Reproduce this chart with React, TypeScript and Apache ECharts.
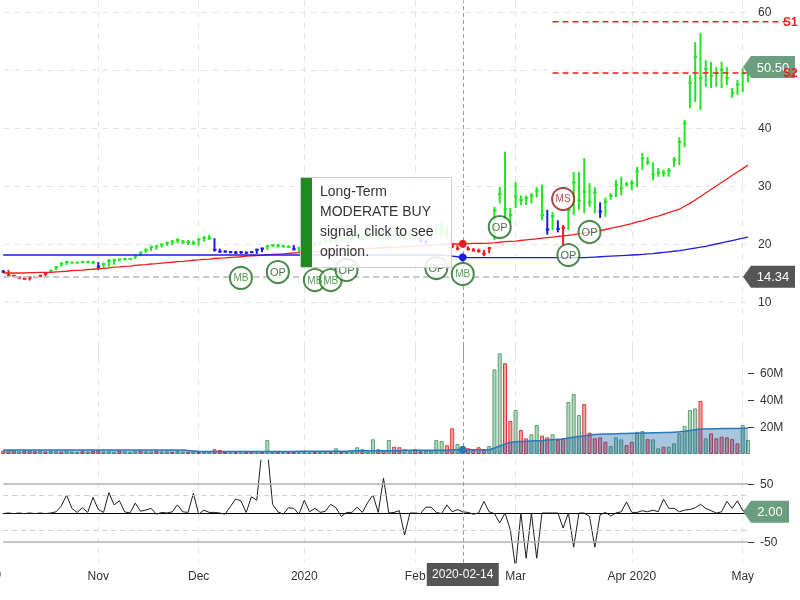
import React, { useEffect, useRef } from "react";
import * as echarts from "echarts";

// ---------- categories (trading days shown on the chart) ----------
const START = "2019-10-08";
const END = "2020-05-04";
const closedDays = ["2019-11-28", "2019-11-29", "2019-12-24", "2019-12-25", "2020-01-01", "2020-01-20", "2020-02-17", "2020-04-10"];
function buildDates(): string[] {
  const out: string[] = [];
  const d = new Date(START + "T00:00:00Z");
  const end = new Date(END + "T00:00:00Z");
  while (d <= end) {
    const dow = d.getUTCDay();
    const s = d.toISOString().slice(0, 10);
    if (dow !== 0 && dow !== 6 && !closedDays.includes(s)) out.push(s);
    d.setUTCDate(d.getUTCDate() + 1);
  }
  return out;
}
const dates = buildDates();

const monthLabels: Record<string, string> = {
  "2019-11-01": "Nov",
  "2019-12-02": "Dec",
  "2020-01-02": "2020",
  "2020-02-03": "Feb",
  "2020-03-02": "Mar",
  "2020-04-01": "Apr 2020",
  "2020-05-01": "May",
};
const firstLabel = "Oct 2019";
const crossDate = "2020-02-14";

// ---------- price bars ----------
const lows = [
  15.0, 14.4, 14.3, 14.1, 13.9, 13.7, 14.1, 14.3, 14.3, 15.0,
  15.5, 16.1, 16.4, 16.7, 16.7, 16.7, 16.7, 16.5, 15.5, 15.8,
  16.1, 16.4, 17.0, 17.2, 17.3, 17.4, 17.9, 18.5, 18.8, 19.0,
  19.4, 19.7, 19.8, 20.1, 20.0, 19.8, 19.8, 19.7, 20.4, 20.7,
  18.7, 18.5, 18.5, 18.4, 18.3, 18.3, 18.3, 18.4, 18.3, 18.6,
  19.0, 19.5, 19.4, 19.4, 19.4, 18.9, 18.6, 19.0, 19.3, 19.5,
  19.8, 20.0, 20.0, 19.8, 20.2, 20.5, 20.3, 20.8, 20.6, 21.0,
  21.3, 20.8, 20.5, 20.6, 21.2, 21.0, 20.6, 20.8, 20.5, 20.2,
  20.0, 20.8, 21.5, 21.2, 21.0, 19.3, 18.9, 19.5, 18.9, 18.7,
  18.5, 17.9, 18.4, 20.7, 27.0, 24.1, 23.6, 26.2, 26.7, 26.7,
  27.0, 28.0, 24.1, 21.6, 22.4, 22.0, 19.8, 22.4, 25.0, 25.9,
  25.3, 26.4, 25.3, 24.5, 24.7, 27.6, 28.1, 28.4, 29.9, 29.3,
  29.8, 32.8, 33.6, 31.0, 31.6, 31.6, 31.6, 33.3, 33.6, 36.7,
  43.4, 44.5, 43.1, 47.1, 46.9, 47.1, 46.9, 47.4, 45.2, 45.7, 46.2, 47.9,
];
const highs = [
  15.5, 15.5, 14.7, 14.4, 14.2, 14.4, 14.5, 14.7, 15.0, 15.6,
  16.2, 16.9, 17.1, 16.9, 16.9, 17.1, 17.1, 17.1, 16.9, 16.8,
  17.4, 17.5, 17.5, 17.5, 17.5, 18.1, 18.7, 19.2, 19.7, 19.8,
  20.1, 20.4, 20.7, 21.0, 20.7, 20.7, 20.6, 21.0, 21.3, 21.6,
  21.0, 19.2, 18.9, 18.8, 18.8, 18.8, 18.7, 18.8, 19.2, 19.4,
  19.8, 20.0, 20.0, 19.8, 19.8, 19.8, 19.5, 19.8, 20.0, 20.3,
  20.6, 20.8, 21.2, 21.5, 21.3, 21.8, 21.5, 22.0, 21.6, 22.5,
  22.7, 22.0, 21.5, 21.8, 22.8, 22.0, 21.4, 22.6, 21.8, 21.2,
  20.8, 22.5, 23.5, 24.1, 23.0, 20.2, 19.8, 20.3, 19.6, 19.3,
  19.2, 19.0, 19.5, 26.4, 29.8, 35.9, 26.2, 30.7, 28.4, 28.4,
  28.8, 29.8, 30.2, 25.9, 25.5, 24.1, 23.3, 26.4, 32.4, 32.4,
  34.8, 30.5, 29.8, 27.2, 28.0, 28.8, 31.0, 31.6, 30.7, 31.0,
  33.3, 35.7, 35.0, 34.1, 33.1, 32.8, 33.1, 35.0, 38.4, 41.4,
  49.1, 54.8, 56.4, 51.7, 51.4, 50.5, 51.4, 50.5, 46.9, 48.3, 50.3, 50.5,
];
const closes = [
  15.2, 14.6, 14.5, 14.2, 14.0, 14.2, 14.3, 14.5, 14.9, 15.4,
  16.0, 16.6, 16.9, 16.8, 16.8, 16.9, 16.9, 16.8, 16.1, 16.5,
  17.1, 17.2, 17.3, 17.4, 17.4, 17.9, 18.5, 19.0, 19.5, 19.6,
  19.9, 20.2, 20.4, 20.7, 20.4, 20.3, 20.2, 20.8, 21.1, 21.0,
  19.0, 18.7, 18.7, 18.6, 18.5, 18.6, 18.5, 18.6, 19.0, 19.2,
  19.6, 19.8, 19.7, 19.6, 19.5, 19.1, 19.3, 19.6, 19.8, 20.1,
  20.4, 20.5, 20.9, 21.0, 20.8, 21.5, 21.0, 21.7, 21.2, 22.1,
  22.0, 21.3, 21.0, 21.5, 22.3, 21.4, 20.9, 22.0, 21.0, 20.5,
  20.3, 22.0, 23.0, 22.5, 21.4, 19.6, 19.2, 19.7, 19.1, 18.9,
  18.8, 18.3, 19.3, 25.8, 28.6, 26.0, 25.0, 28.2, 27.6, 27.9,
  28.3, 29.2, 25.0, 22.5, 24.8, 22.6, 22.8, 25.9, 30.6, 27.5,
  29.0, 27.2, 28.9, 25.6, 27.3, 28.3, 30.2, 29.6, 30.3, 30.5,
  32.5, 34.8, 34.1, 32.0, 32.3, 32.2, 32.6, 34.5, 37.6, 40.8,
  47.8, 52.3, 48.6, 50.2, 49.0, 49.5, 50.0, 48.6, 46.0, 47.5, 49.4, 50.5,
];
// trend colour of each bar, as runs: g = green, r = red, b = blue
const trendRuns: [string, number][] = [
  ["b", 1], ["r", 8], ["g", 9], ["b", 1], ["g", 21], ["b", 10], ["g", 5], ["b", 1], ["g", 23], ["b", 2],
  ["g", 4], ["r", 8], ["g", 10], ["b", 1], ["g", 1], ["b", 1], ["r", 1], ["g", 6], ["b", 1], ["g", 28],
];
const trend: string[] = trendRuns.flatMap(([c, n]) => Array.from({ length: n }, () => c));

const redMA = [
  15.0, 15.0, 15.0, 15.0, 15.0, 15.05, 15.05, 15.1, 15.1, 15.1,
  15.2, 15.25, 15.3, 15.4, 15.45, 15.5, 15.6, 15.65, 15.75, 15.8,
  15.9, 16.0, 16.05, 16.15, 16.2, 16.3, 16.4, 16.45, 16.55, 16.6,
  16.7, 16.8, 16.85, 16.95, 17.0, 17.1, 17.2, 17.25, 17.35, 17.4,
  17.5, 17.55, 17.6, 17.7, 17.75, 17.8, 17.9, 17.95, 18.0, 18.05,
  18.15, 18.2, 18.25, 18.3, 18.4, 18.45, 18.5, 18.6, 18.65, 18.7,
  18.75, 18.8, 18.85, 18.9, 18.95, 19.0, 19.05, 19.1, 19.15, 19.2,
  19.25, 19.3, 19.35, 19.4, 19.45, 19.5, 19.55, 19.6, 19.65, 19.7,
  19.75, 19.8, 19.85, 19.9, 19.95, 20.0, 20.0, 20.05, 20.05, 20.1,
  20.1, 20.1, 20.15, 20.2, 20.3, 20.4, 20.45, 20.5, 20.6, 20.7,
  20.8, 20.9, 21.0, 21.1, 21.2, 21.3, 21.4, 21.5, 21.6, 21.8,
  21.9, 22.0, 22.1, 22.3, 22.5, 22.7, 22.9, 23.1, 23.3, 23.5,
  23.8, 24.0, 24.3, 24.6, 24.8, 25.1, 25.4, 25.7, 26.0, 26.5,
  27.0, 27.6, 28.2, 28.8, 29.4, 30.0, 30.6, 31.2, 31.8, 32.4, 33.0, 33.6,
];
const blueMA = [
  18.1, 18.1, 18.1, 18.1, 18.1, 18.1, 18.1, 18.1, 18.1, 18.1,
  18.1, 18.1, 18.1, 18.1, 18.1, 18.1, 18.1, 18.1, 18.1, 18.1,
  18.1, 18.1, 18.1, 18.1, 18.1, 18.1, 18.1, 18.1, 18.1, 18.1,
  18.1, 18.1, 18.1, 18.1, 18.1, 18.1, 18.1, 18.1, 18.1, 18.1,
  18.1, 18.1, 18.1, 18.1, 18.1, 18.1, 18.1, 18.1, 18.1, 18.1,
  18.1, 18.1, 18.1, 18.1, 18.1, 18.1, 18.1, 18.1, 18.1, 18.1,
  18.1, 18.1, 18.1, 18.1, 18.1, 18.1, 18.1, 18.1, 18.1, 18.1,
  18.1, 18.1, 18.1, 18.1, 18.1, 18.1, 18.1, 18.1, 18.1, 18.1,
  18.1, 18.1, 18.1, 18.1, 18.0, 17.9, 17.8, 17.7, 17.65, 17.65,
  17.65, 17.65, 17.65, 17.65, 17.65, 17.65, 17.65, 17.65, 17.65, 17.65,
  17.65, 17.65, 17.65, 17.65, 17.65, 17.65, 17.65, 17.65, 17.65, 17.65,
  17.65, 17.7, 17.75, 17.8, 17.85, 17.9, 17.95, 18.0, 18.05, 18.1,
  18.15, 18.2, 18.3, 18.35, 18.45, 18.55, 18.65, 18.75, 18.85, 19.0,
  19.15, 19.3, 19.45, 19.6, 19.8, 20.0, 20.2, 20.4, 20.6, 20.8, 21.0, 21.2,
];

// ---------- signals ----------
const markerIdx = [45, 52, 59, 62, 65, 82, 87, 94, 106, 107, 111];
const markerVal = [14.14, 15.17, 13.79, 13.79, 15.52, 15.86, 14.83, 22.93, 27.76, 18.1, 22.07];
const markerType = ["MB", "OP", "MB", "MB", "OP", "OP", "MB", "OP", "MS", "OP", "OP"];

const lastPrice = 50.5;
const lowRef = 14.34;
const s1 = 58.3;
const s2 = 49.5;
const sStartIdx = 104;

// ---------- volume (millions) ----------
const volumes = [
  2.5, 3.0, 2.5, 2.0, 2.2, 2.8, 2.0, 2.3, 1.8, 2.2,
  2.0, 1.8, 2.5, 1.8, 1.6, 2.0, 1.8, 2.2, 2.6, 1.8,
  2.0, 1.7, 2.2, 1.9, 1.6, 2.1, 2.4, 2.0, 1.8, 2.3,
  1.9, 2.0, 1.7, 2.2, 1.8, 1.6, 2.0, 1.5, 1.8, 2.0,
  3.5, 3.0, 1.5, 1.2, 1.4, 1.2, 2.0, 2.0, 1.3, 1.5,
  10.4, 1.8, 1.5, 1.3, 1.6, 1.4, 1.7, 1.5, 1.3, 1.5,
  1.6, 1.8, 1.4, 4.2, 1.6, 1.5, 1.8, 5.0, 3.5, 1.8,
  10.9, 3.5, 3.0, 10.4, 5.4, 5.0, 3.5, 2.0, 3.5, 2.0,
  2.2, 2.5, 10.4, 9.6, 6.4, 19.0, 7.4, 5.4, 4.2, 3.0,
  5.0, 3.0, 5.9, 62.7, 74.6, 67.2, 24.4, 32.6, 17.8, 11.6,
  14.6, 21.5, 13.6, 12.3, 14.6, 10.4, 11.6, 38.5, 44.4, 28.9,
  37.0, 15.8, 11.6, 12.3, 9.1, 5.9, 12.3, 10.8, 6.7, 9.1,
  16.5, 17.0, 11.0, 10.8, 4.2, 5.4, 5.4, 7.9, 15.3, 20.7,
  32.6, 33.8, 39.3, 11.6, 15.3, 11.6, 12.8, 12.3, 11.0, 7.9, 21.5, 10.4,
];
const volColors =
  "rrrgrrrgrg" + "grgggrgrrg" + "ggrgggrggr" + "ggrggrgrgg" + "rrrgrgrrgr" +
  "ggrgrrgggr" + "ggrgrgggrg" + "grrgrrggrr" + "ggggrrgrrr" + "rrgggrrgrr" +
  "ggrrgrrggg" + "rrrrrgggrr" + "ggrggrgggg" + "ggrgrrrrrr" + "gg";
const volMA = [
  3.0, 3.0, 3.0, 3.0, 3.0, 3.0, 3.0, 3.0, 3.0, 3.0,
  3.0, 3.0, 3.0, 3.0, 3.0, 3.0, 3.0, 3.0, 3.0, 3.0,
  3.0, 3.0, 3.0, 3.0, 3.0, 3.0, 3.0, 3.0, 3.0, 3.0,
  3.0, 3.0, 3.0, 3.0, 3.0, 2.6, 2.3, 2.0, 1.8, 1.8,
  1.8, 1.8, 1.8, 1.8, 1.8, 1.8, 1.8, 1.8, 1.8, 1.8,
  1.8, 1.8, 1.8, 1.8, 1.8, 1.8, 2.0, 2.0, 2.0, 2.0,
  2.0, 2.0, 2.0, 2.0, 2.0, 2.0, 2.4, 2.4, 2.4, 2.4,
  2.4, 2.4, 2.4, 2.4, 2.4, 2.4, 2.8, 2.8, 2.8, 2.8,
  2.8, 2.8, 2.8, 2.8, 2.8, 3.2, 3.2, 3.2, 3.2, 3.2,
  3.2, 3.2, 3.2, 4.5, 6.0, 7.5, 8.5, 9.0, 9.2, 9.4,
  9.6, 9.8, 10.0, 10.3, 10.6, 10.9, 11.2, 11.8, 12.4, 13.0,
  13.6, 14.0, 14.4, 14.6, 14.8, 14.9, 15.0, 15.1, 15.2, 15.3,
  15.4, 15.5, 15.6, 15.7, 15.8, 15.9, 16.0, 16.2, 16.4, 16.8,
  17.4, 18.0, 18.5, 18.6, 18.7, 18.7, 18.8, 18.8, 18.9, 18.9, 19.0, 19.0,
];

// ---------- oscillator ----------
const osc = [
  -1, 0, -1, 0, -1, 0, -1, 0, -1, 0,
  2, 12, 31, 8, 1, 9, 1, 27, 6, 1,
  35, 14, 21, 2, 0, 17, 3, 5, 8, -2,
  1, 0, 2, 14, 2, 1, 34, -2, 5, 1,
  1, 0, -2, 11, 24, 21, 1, 28, 22, 110,
  110, 15, 2, -2, 9, 8, -2, 22, 2, 8,
  1, 3, 15, 9, -6, 1, 1, 10, 1, 18,
  31, 1, 60, 0, 1, 4, -38, 0, 0, -1,
  10, 10, 1, -1, 14, 2, 6, 2, 1, -2,
  0, 20, 2, -1, -17, 0, -29, -95, 0, -78,
  0, -78, 0, 0, 0, 0, -26, 0, -59, 0,
  0, -6, -59, -3, 1, -5, 0, 2, 19, 1,
  1, 4, 2, 5, 2, 24, 8, 8, 2, 5,
  6, 9, 15, 8, 4, 0, 2, 20, 8, 21, 4, 2,
];
const oscLast = 2.0;

const tooltipLines = ["Long-Term", "MODERATE BUY", "signal, click to see", "opinion."];

// ---------- styles ----------
const FONT = '"Liberation Sans", Arial, Helvetica, sans-serif';
const trendColor: Record<string, string> = { g: "#22e622", r: "#f01c1c", b: "#1c1ce8" };
const gridLine = { color: "#e4e4e4", type: [6, 5] as number[], width: 1 };
const crossLine = { color: "#9a9a9a", type: [4, 3] as number[], width: 1 };

function makeXAxis(gridIndex: number) {
  const bottom = gridIndex === 2;
  return {
    type: "category",
    gridIndex,
    data: dates,
    boundaryGap: false,
    axisTick: { show: false },
    axisLine: { show: bottom, lineStyle: { color: "#000", width: 1 } },
    axisLabel: {
      show: bottom,
      interval: (_i: number, v: string) => !!monthLabels[v],
      formatter: (v: string) => monthLabels[v] || "",
      color: "#333",
      fontSize: 12,
      margin: 7,
      fontFamily: FONT,
    },
    splitLine: {
      show: true,
      interval: (_i: number, v: string) => !!monthLabels[v],
      lineStyle: gridLine,
    },
  };
}

function buildOption() {
  const lineOnly = { symbol: ["none", "none"], silent: true, label: { show: false } };
  return {
    animation: false,
    textStyle: { fontFamily: FONT },
    grid: [
      { left: 3.2, right: 52, top: 0.4, height: 359.6 },
      { left: 3.2, right: 52, top: 346, height: 108 },
      { left: 3.2, right: 52, top: 460.2, height: 102.7 },
    ],
    xAxis: [makeXAxis(0), makeXAxis(1), makeXAxis(2)],
    yAxis: [
      {
        type: "value",
        gridIndex: 0,
        position: "right",
        min: 0,
        max: 62,
        interval: 10,
        axisLine: { show: false },
        axisTick: { show: false },
        axisLabel: {
          color: "#333",
          fontSize: 12,
          margin: 10,
          customValues: [10, 20, 30, 40, 50, 60],
          formatter: (v: number) => (v === 0 || v > 60 ? "" : String(v)),
        },
        splitLine: { show: true, showMinLine: false, showMaxLine: false, lineStyle: gridLine },
      },
      {
        type: "value",
        gridIndex: 1,
        position: "right",
        min: 0,
        max: 80e6,
        axisLine: { show: false },
        axisTick: { show: true, length: 6, lineStyle: { color: "#333" }, customValues: [20e6, 40e6, 60e6] },
        axisLabel: {
          color: "#333",
          fontSize: 12,
          margin: 12,
          customValues: [20e6, 40e6, 60e6],
          formatter: (v: number) => (v > 0 && v < 80e6 ? v / 1e6 + "M" : ""),
        },
        splitLine: { show: false },
      },
      {
        type: "value",
        gridIndex: 2,
        position: "right",
        min: -86,
        max: 91,
        axisLine: { show: false },
        axisTick: { show: true, length: 6, lineStyle: { color: "#333" }, customValues: [50, -50] },
        axisLabel: {
          color: "#333",
          fontSize: 12,
          margin: 12,
          customValues: [50, -50],
          formatter: (v: number) => (v === 50 || v === -50 ? String(v) : ""),
        },
        splitLine: { show: false },
      },
    ],
    series: [
      {
        type: "custom",
        name: "price",
        xAxisIndex: 0,
        yAxisIndex: 0,
        data: dates.map((_d, i) => [i, lows[i], highs[i], closes[i], "grb".indexOf(trend[i])]),
        encode: { x: 0, y: [1, 2] },
        renderItem: (_p: any, api: any) => {
          const xi = api.value(0);
          const lo = api.coord([xi, api.value(1)]);
          const hi = api.coord([xi, api.value(2)]);
          const cl = api.coord([xi, api.value(3)]);
          const color = trendColor["grb"[api.value(4)]];
          return {
            type: "group",
            children: [
              { type: "rect", shape: { x: lo[0] - 1, y: hi[1], width: 2, height: Math.max(lo[1] - hi[1], 1.5) }, style: { fill: color } },
              { type: "rect", shape: { x: cl[0] - 1.5, y: cl[1] - 1, width: 3.5, height: 2 }, style: { fill: color } },
            ],
          };
        },
        markLine: {
          ...lineOnly,
          data: [
            { yAxis: lowRef, lineStyle: { color: "#c8c8c8", type: [6, 4], width: 2 } },
            { xAxis: crossDate, lineStyle: crossLine },
          ],
        },
        z: 2,
      },
      {
        type: "line",
        name: "ma-red",
        xAxisIndex: 0,
        yAxisIndex: 0,
        data: redMA,
        showSymbol: false,
        lineStyle: { color: "#f01c1c", width: 1.3 },
        itemStyle: { color: "#f01c1c" },
        markPoint: {
          symbol: "circle",
          symbolSize: 8,
          label: { show: false },
          itemStyle: { color: "#f01c1c" },
          data: [{ coord: [crossDate, redMA[dates.indexOf(crossDate)]] }],
        },
        z: 3,
      },
      {
        type: "line",
        name: "ma-blue",
        xAxisIndex: 0,
        yAxisIndex: 0,
        data: blueMA,
        showSymbol: false,
        lineStyle: { color: "#1c1ce8", width: 1.3 },
        itemStyle: { color: "#1c1ce8" },
        markPoint: {
          symbol: "circle",
          symbolSize: 8,
          label: { show: false },
          itemStyle: { color: "#1c1ce8" },
          data: [{ coord: [crossDate, blueMA[dates.indexOf(crossDate)]] }],
        },
        z: 3,
      },
      {
        type: "scatter",
        name: "signals",
        xAxisIndex: 0,
        yAxisIndex: 0,
        symbol: "circle",
        symbolSize: 22,
        data: markerIdx.map((idx, k) => {
          const sell = markerType[k] === "MS";
          const col = sell ? "#8e1f1f" : "#1f6b1f";
          return {
            name: markerType[k],
            value: [idx, markerVal[k]],
            itemStyle: { color: sell ? "rgba(255,245,245,0.92)" : "rgba(255,255,255,0.92)", borderColor: col, borderWidth: 2 },
            label: {
              show: true,
              position: "inside",
              formatter: "{b}",
              color: sell ? "#8e1f1f" : markerType[k] === "MB" ? "#2c8a2c" : "#1f4f1f",
              fontSize: markerType[k] === "OP" ? 11 : 10,
              fontFamily: FONT,
            },
          };
        }),
        z: 5,
      },
      {
        type: "bar",
        name: "volume",
        xAxisIndex: 1,
        yAxisIndex: 1,
        barWidth: 4,
        clip: false,
        data: volumes.map((v, i) => ({
          value: v * 1e6,
          itemStyle:
            volColors[i] === "g"
              ? { color: "#b2d8bc", borderColor: "#5e9e72", borderWidth: 1 }
              : { color: "#f5a3a3", borderColor: "#e43535", borderWidth: 1 },
        })),
        markLine: { ...lineOnly, data: [{ xAxis: crossDate, lineStyle: crossLine }] },
      },
      {
        type: "line",
        name: "volume-avg",
        xAxisIndex: 1,
        yAxisIndex: 1,
        data: volMA.map((v) => v * 1e6),
        showSymbol: false,
        lineStyle: { color: "#2a78b8", width: 1.5 },
        itemStyle: { color: "#2a78b8" },
        areaStyle: { color: "rgba(10,91,164,0.5)" },
        markPoint: {
          symbol: "circle",
          symbolSize: 8,
          label: { show: false },
          itemStyle: { color: "#2a78b8" },
          data: [{ coord: [crossDate, volMA[dates.indexOf(crossDate)] * 1e6] }],
        },
      },
      {
        type: "line",
        name: "oscillator",
        xAxisIndex: 2,
        yAxisIndex: 2,
        data: osc,
        showSymbol: false,
        lineStyle: { color: "#1e1e1e", width: 1 },
        itemStyle: { color: "#1e1e1e" },
        markLine: {
          ...lineOnly,
          data: [
            { yAxis: 50, lineStyle: { color: "#b0b0b0", type: "solid", width: 1.5 } },
            { yAxis: -50, lineStyle: { color: "#b0b0b0", type: "solid", width: 1.5 } },
            { yAxis: 30, lineStyle: { color: "#cfcfcf", type: [5, 4], width: 1 } },
            { yAxis: -30, lineStyle: { color: "#cfcfcf", type: [5, 4], width: 1 } },
            { xAxis: crossDate, lineStyle: crossLine },
          ],
        },
      },
    ],
  };
}

function tag(tipX: number, y: number, right: number, text: string, fill: string) {
  return [
    {
      type: "polygon",
      z: 60,
      shape: { points: [[tipX, y], [tipX + 8, y - 11], [right, y - 11], [right, y + 11], [tipX + 8, y + 11]] },
      style: { fill },
    },
    {
      type: "text",
      z: 61,
      x: (tipX + 8 + right) / 2,
      y,
      style: { text, fill: "#fff", font: `13px ${FONT}`, align: "center", verticalAlign: "middle" },
    },
  ];
}

export default function App() {
  const ref = useRef<HTMLDivElement>(null);
  useEffect(() => {
    if (!ref.current) return;
    const chart = echarts.init(ref.current, null, { renderer: "svg" });
    chart.setOption(buildOption() as any);

    const X = (i: number) => chart.convertToPixel({ xAxisIndex: 0 }, dates[i]) as number;
    const Yp = (v: number) => chart.convertToPixel({ yAxisIndex: 0 }, v) as number;
    const Yo = (v: number) => chart.convertToPixel({ yAxisIndex: 2 }, v) as number;
    const last = dates.length - 1;
    const tipX = X(last) - 5;
    const step = X(1) - X(0);
    const cx = X(dates.indexOf(crossDate));
    const axisY = Yo(-86);
    const sEnd = 785;

    const graphic: any[] = [
      // S1 / S2 levels
      { type: "line", z: 55, shape: { x1: X(sStartIdx), y1: Yp(s1), x2: sEnd, y2: Yp(s1) }, style: { stroke: "#ee1c1c", lineWidth: 1.5, lineDash: [6, 4] } },
      { type: "line", z: 55, shape: { x1: X(sStartIdx), y1: Yp(s2), x2: sEnd, y2: Yp(s2) }, style: { stroke: "#ee1c1c", lineWidth: 1.5, lineDash: [6, 4] } },
      ...tag(tipX, Yp(lastPrice), 795, lastPrice.toFixed(2), "#6b9e7f"),
      ...tag(tipX, Yp(lowRef), 795, lowRef.toFixed(2), "#555555"),
      ...tag(tipX, Yo(oscLast), 789, oscLast.toFixed(2), "#6b9e7f"),
      { type: "text", z: 62, x: 783, y: Yp(s1), style: { text: "S1", fill: "#ee1c1c", font: `bold 12px ${FONT}`, verticalAlign: "middle" } },
      { type: "text", z: 62, x: 783, y: Yp(s2), style: { text: "S2", fill: "#ee1c1c", font: `bold 12px ${FONT}`, verticalAlign: "middle" } },
      // tooltip box
      { type: "rect", z: 70, shape: { x: 300.5, y: 177.5, width: 151, height: 90 }, style: { fill: "rgba(255,255,255,0.88)", stroke: "#cccccc", lineWidth: 1 } },
      { type: "rect", z: 71, shape: { x: 301, y: 178, width: 11, height: 89 }, style: { fill: "#1f8a1f" } },
      { type: "text", z: 72, x: 320, y: 181, style: { text: tooltipLines.join("\n"), fill: "#333", font: `14px ${FONT}`, lineHeight: 20 } },
      // crosshair date label
      { type: "rect", z: 80, shape: { x: cx - 36, y: axisY, width: 72, height: 23 }, style: { fill: "#555555" } },
      { type: "text", z: 81, x: cx, y: axisY + 11.5, style: { text: crossDate, fill: "#fff", font: `12px ${FONT}`, align: "center", verticalAlign: "middle" } },
      // clipped first month label
      { type: "text", z: 20, x: X(0) - 5 * step, y: axisY + 12, style: { text: firstLabel, fill: "#333", font: `12px ${FONT}`, align: "center", verticalAlign: "middle" } },
    ];
    chart.setOption({ graphic });
    return () => chart.dispose();
  }, []);
  return <div ref={ref} style={{ position: "fixed", left: 0, top: 0, width: 800, height: 600 }} />;
}
